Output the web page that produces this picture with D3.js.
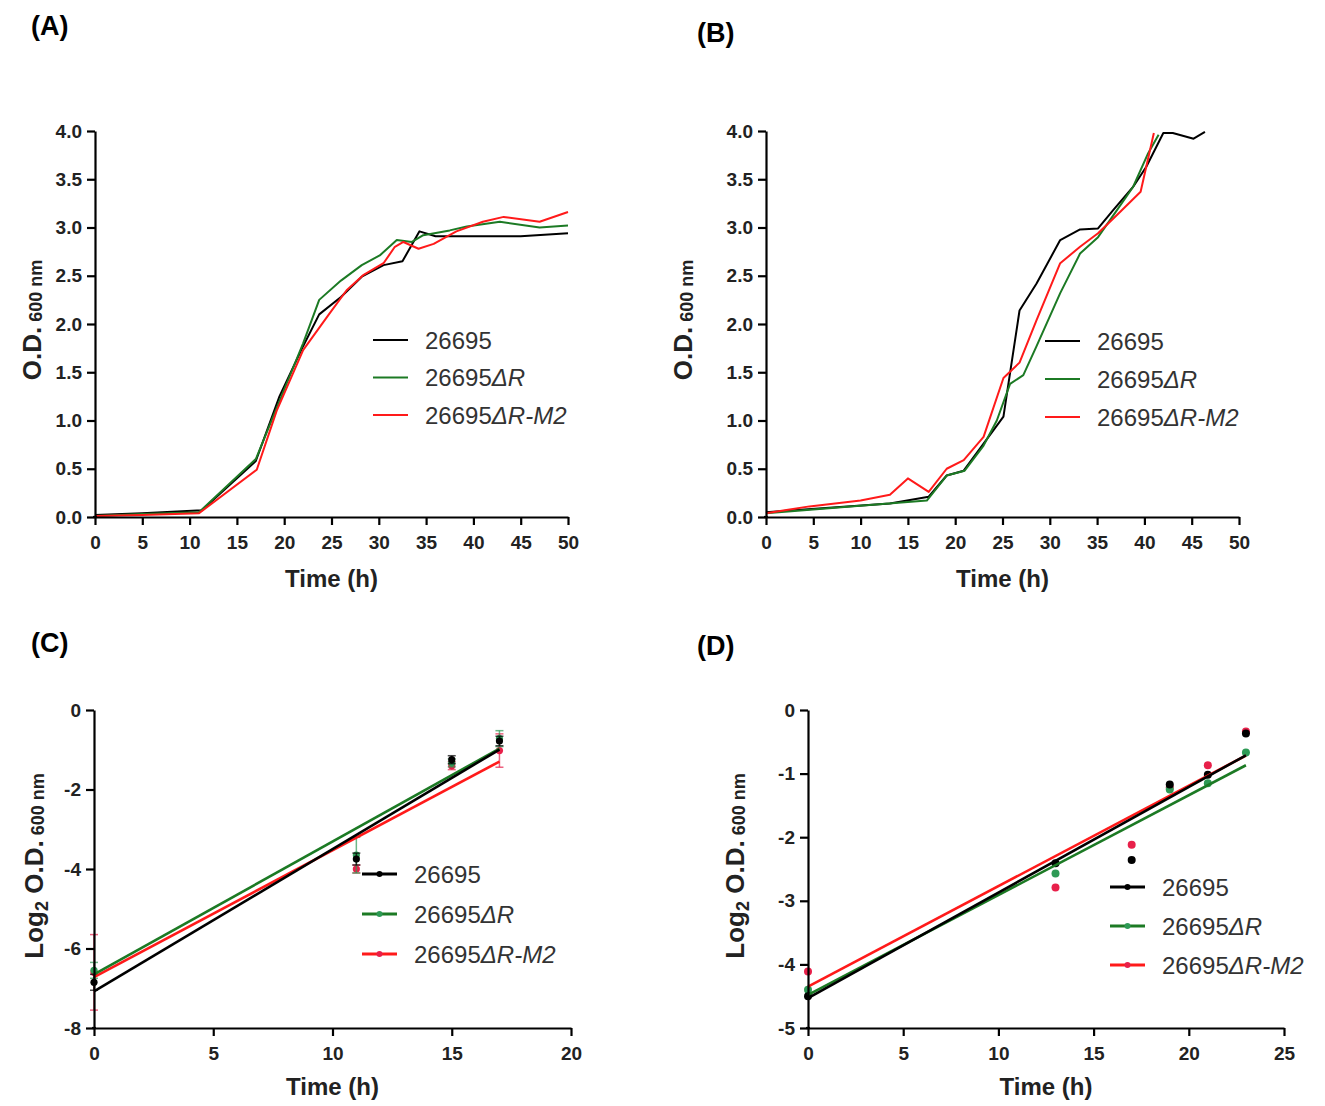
<!DOCTYPE html>
<html><head><meta charset="utf-8">
<script src="https://cdn.jsdelivr.net/npm/d3@7"></script>
<style>body{margin:0;background:#fff} svg{display:block}</style>
</head><body>
<svg id="chart" width="1325" height="1106"></svg>
<script>
// ===================== DATA =====================
const seriesNames = ["26695", "26695\u0394R", "26695\u0394R-M2"];

// Panel A : growth curves (O.D. 600 nm vs time)
const aTimeWT = [0, 5, 11.3, 17, 19.5, 22, 23.7, 26, 28.2, 30.5, 32.5, 34.3, 36, 40, 45, 50];
const aOdWT   = [0.02, 0.04, 0.07, 0.58, 1.25, 1.77, 2.1, 2.28, 2.49, 2.61, 2.65, 2.96, 2.91, 2.91, 2.91, 2.94];
const aTimeDR = [0, 5, 11, 17, 19.5, 22, 23.7, 26, 28.2, 30.1, 31.9, 33.5, 34.7, 37.5, 39.3, 42.8, 47, 50];
const aOdDR   = [0.01, 0.03, 0.05, 0.6, 1.2, 1.8, 2.25, 2.45, 2.61, 2.71, 2.87, 2.85, 2.92, 2.97, 3.01, 3.06, 3.0, 3.02];
const aTimeM2 = [0, 5, 11, 17.1, 19.2, 22, 24.8, 26.6, 28.4, 30.5, 31.7, 32.6, 34.2, 35.8, 38.2, 41, 43.2, 47, 50];
const aOdM2   = [0.01, 0.02, 0.04, 0.49, 1.1, 1.73, 2.11, 2.35, 2.51, 2.63, 2.8, 2.85, 2.78, 2.83, 2.96, 3.06, 3.11, 3.06, 3.16];

// Panel B : growth curves
const bTimeWT = [0, 13.1, 17.2, 19.1, 20.9, 23, 25.1, 26.8, 28.6, 31.1, 33.2, 35.1, 36.7, 38.8, 40.2, 42, 43, 45.2, 46.4];
const bOdWT   = [0.05, 0.14, 0.21, 0.43, 0.48, 0.76, 1.04, 2.14, 2.42, 2.87, 2.98, 2.99, 3.18, 3.42, 3.63, 3.98, 3.98, 3.92, 3.99];
const bTimeDR = [0, 17, 19.1, 21, 23, 24.4, 25.8, 27.2, 28.6, 31.1, 33.2, 35.1, 37.1, 38.8, 40.4, 41.5];
const bOdDR   = [0.04, 0.17, 0.43, 0.48, 0.74, 1.0, 1.38, 1.47, 1.77, 2.32, 2.73, 2.9, 3.18, 3.42, 3.77, 3.96];
const bTimeM2 = [0, 4.6, 10, 13.1, 15, 17.2, 19.1, 20.9, 23, 25.1, 26.8, 28.6, 31.1, 33.2, 35.1, 37.1, 39.6, 41];
const bOdM2   = [0.04, 0.11, 0.17, 0.23, 0.4, 0.26, 0.5, 0.59, 0.83, 1.44, 1.6, 2.04, 2.63, 2.8, 2.94, 3.13, 3.37, 3.98];

// Panel C : log2 O.D. (mean, SD) with linear fits
const cTime   = [0, 11, 15, 17];
const cLogWT  = [-6.85, -3.75, -1.25, -0.78];
const cSdWT   = [0.2, 0.15, 0.1, 0.12];
const cLogDR  = [-6.55, -3.65, -1.33, -0.72];
const cSdDR   = [0.2, 0.45, 0.1, 0.2];
const cLogM2  = [-6.6, -4.0, -1.4, -1.02];
const cSdM2   = [0.95, 0.1, 0.1, 0.42];
const cFitSlope     = [0.358, 0.334, 0.319];
const cFitIntercept = [-7.08, -6.65, -6.72];
const cFitRange     = [0, 17];

// Panel D : log2 O.D. with linear fits
const dTime   = [0, 13, 17, 19, 21, 23];
const dLogWT  = [-4.5, -2.41, -2.36, -1.17, -1.02, -0.37];
const dLogDR  = [-4.4, -2.57, null, -1.25, -1.15, -0.67];
const dLogM2  = [-4.11, -2.79, -2.12, -1.22, -0.87, -0.34];
const dFitSlope     = [0.166, 0.157, 0.158];
const dFitIntercept = [-4.53, -4.48, -4.35];
const dFitRange     = [0, 23];

// Tick values
const odTicks   = [0, 0.5, 1, 1.5, 2, 2.5, 3, 3.5, 4];
const time50Ticks = [0, 5, 10, 15, 20, 25, 30, 35, 40, 45, 50];
const time20Ticks = [0, 5, 10, 15, 20];
const time25Ticks = [0, 5, 10, 15, 20, 25];
const logCTicks = [-8, -6, -4, -2, 0];
const logDTicks = [-5, -4, -3, -2, -1, 0];

// ===================== STYLE / LAYOUT =====================
const colors = ["#000000", "#1c7a24", "#ff1a1a"];
const dotColors = ["#000000", "#2e9a55", "#e8204a"];
const FONT = "'Liberation Sans', Arial, Helvetica, sans-serif";
const svg = d3.select("#chart");
const hyph = f => (d => f(d).replace("\u2212", "-"));

function zip(xs, ys) { return xs.map((x, i) => [x, ys[i]]).filter(d => d[1] !== null); }

function makeAxes(g, x, y, xTicks, yTicks, yFmt) {
  const xa = g.append("g").attr("transform", `translate(0,${y.range()[0]})`)
    .call(d3.axisBottom(x).tickValues(xTicks).tickSize(8).tickSizeOuter(0).tickPadding(11).tickFormat(d3.format("d")));
  const ya = g.append("g").attr("transform", `translate(${x.range()[0]},0)`)
    .call(d3.axisLeft(y).tickValues(yTicks).tickSize(8).tickSizeOuter(0).tickPadding(5).tickFormat(hyph(yFmt)));
  [xa, ya].forEach(a => {
    a.select(".domain").attr("stroke", "#000").attr("stroke-width", 2.2);
    a.selectAll(".tick line").attr("stroke", "#000").attr("stroke-width", 2.2);
    a.selectAll(".tick text").attr("fill", "#222").attr("font-family", FONT)
      .attr("font-weight", "bold").attr("font-size", 19);
  });
  g.append("line").attr("x1", x.range()[0] - 2).attr("x2", x.range()[0] + 2)
    .attr("y1", y.range()[0]).attr("y2", y.range()[0]).attr("stroke", "#000").attr("stroke-width", 2.2);
}

function xTitle(g, x, yBase) {
  g.append("text").attr("x", (x.range()[0] + x.range()[1]) / 2).attr("y", yBase)
    .attr("text-anchor", "middle").attr("font-family", FONT).attr("font-weight", "bold")
    .attr("font-size", 24).attr("fill", "#222").text("Time (h)");
}

function yTitle(g, xb, yc, withLog) {
  const t = g.append("text").attr("transform", `translate(${xb},${yc}) rotate(-90)`)
    .attr("text-anchor", "middle").attr("font-family", FONT).attr("font-weight", "bold")
    .attr("font-size", 26).attr("fill", "#222");
  if (withLog) {
    t.append("tspan").text("Log");
    t.append("tspan").attr("font-size", 18).attr("dy", 5).text("2");
    t.append("tspan").attr("dy", -5).text(" O.D.");
  } else {
    t.append("tspan").text("O.D.");
  }
  t.append("tspan").attr("font-size", 18).attr("dy", 1).text(" 600 nm");
}

function panelLabel(txt, x, y) {
  svg.append("text").attr("x", x).attr("y", y).attr("font-family", FONT).attr("font-weight", "bold")
    .attr("font-size", 27).attr("fill", "#000").text(txt);
}

function legend(g, x0, y0, dy, withDots) {
  seriesNames.forEach((name, i) => {
    const yy = y0 + i * dy;
    g.append("line").attr("x1", x0).attr("x2", x0 + 35).attr("y1", yy).attr("y2", yy)
      .attr("stroke", colors[i]).attr("stroke-width", withDots ? 3 : 2.2);
    if (withDots) g.append("circle").attr("cx", x0 + 17.5).attr("cy", yy).attr("r", 3).attr("fill", dotColors[i]);
    const t = g.append("text").attr("x", x0 + 52).attr("y", yy + 8.5).attr("font-family", FONT)
      .attr("font-size", 24).attr("fill", "#333");
    t.append("tspan").text("26695");
    if (i === 1) t.append("tspan").attr("font-style", "italic").text("\u0394R");
    if (i === 2) t.append("tspan").attr("font-style", "italic").text("\u0394R-M2");
  });
}

const line = (x, y) => d3.line().x(d => x(d[0])).y(d => y(d[1]));

// ===================== PANEL A =====================
{
  const g = svg.append("g");
  const x = d3.scaleLinear().domain([0, 50]).range([95, 568]);
  const y = d3.scaleLinear().domain([0, 4]).range([517, 131]);
  const data = [zip(aTimeWT, aOdWT), zip(aTimeDR, aOdDR), zip(aTimeM2, aOdM2)];
  data.forEach((d, i) => g.append("path").datum(d).attr("d", line(x, y)).attr("fill", "none")
    .attr("stroke", colors[i]).attr("stroke-width", 2).attr("stroke-linejoin", "round"));
  makeAxes(g, x, y, time50Ticks, odTicks, d3.format(".1f"));
  xTitle(g, x, 587);
  yTitle(g, 41, 320, false);
  legend(g, 373, 340, 37.5, false);
  panelLabel("(A)", 31, 35);
}

// ===================== PANEL B =====================
{
  const g = svg.append("g");
  const x = d3.scaleLinear().domain([0, 50]).range([766, 1239]);
  const y = d3.scaleLinear().domain([0, 4]).range([517, 131]);
  const data = [zip(bTimeWT, bOdWT), zip(bTimeDR, bOdDR), zip(bTimeM2, bOdM2)];
  data.forEach((d, i) => g.append("path").datum(d).attr("d", line(x, y)).attr("fill", "none")
    .attr("stroke", colors[i]).attr("stroke-width", 2).attr("stroke-linejoin", "round"));
  makeAxes(g, x, y, time50Ticks, odTicks, d3.format(".1f"));
  xTitle(g, x, 587);
  yTitle(g, 692, 320, false);
  legend(g, 1045, 341, 38, false);
  panelLabel("(B)", 697, 42);
}

// ===================== PANEL C =====================
{
  const g = svg.append("g");
  const x = d3.scaleLinear().domain([0, 20]).range([94, 571]);
  const y = d3.scaleLinear().domain([-8, 0]).range([1028, 710]);
  const means = [cLogWT, cLogDR, cLogM2];
  const sds = [cSdWT, cSdDR, cSdM2];
  [2, 1, 0].forEach(i => {
    cTime.forEach((t, j) => {
      const m = means[i][j], s = sds[i][j];
      g.append("line").attr("x1", x(t)).attr("x2", x(t)).attr("y1", y(m - s)).attr("y2", y(m + s))
        .attr("stroke", dotColors[i]).attr("stroke-width", 1.5).attr("opacity", 0.7);
      [m - s, m + s].forEach(v => g.append("line").attr("x1", x(t) - 4).attr("x2", x(t) + 4)
        .attr("y1", y(v)).attr("y2", y(v)).attr("stroke", dotColors[i]).attr("stroke-width", 1.5).attr("opacity", 0.7));
      g.append("circle").attr("cx", x(t)).attr("cy", y(m)).attr("r", 3.6).attr("fill", dotColors[i]);
    });
  });
  [2, 1, 0].forEach(i => {
    const fit = cFitRange.map(t => [t, cFitIntercept[i] + cFitSlope[i] * t]);
    g.append("path").datum(fit).attr("d", line(x, y)).attr("stroke", colors[i]).attr("stroke-width", 2.6).attr("fill", "none");
  });
  makeAxes(g, x, y, time20Ticks, logCTicks, d3.format("d"));
  xTitle(g, x, 1095);
  yTitle(g, 43, 866, true);
  legend(g, 362, 874, 40, true);
  panelLabel("(C)", 31, 652);
}

// ===================== PANEL D =====================
{
  const g = svg.append("g");
  const x = d3.scaleLinear().domain([0, 25]).range([808, 1284]);
  const y = d3.scaleLinear().domain([-5, 0]).range([1028, 710]);
  const means = [dLogWT, dLogDR, dLogM2];
  [2, 1, 0].forEach(i => {
    const pts = zip(dTime, means[i]);
    g.selectAll(null).data(pts).enter().append("circle")
      .attr("cx", d => x(d[0])).attr("cy", d => y(d[1])).attr("r", 4).attr("fill", dotColors[i]);
  });
  [2, 1, 0].forEach(i => {
    const fit = dFitRange.map(t => [t, dFitIntercept[i] + dFitSlope[i] * t]);
    g.append("path").datum(fit).attr("d", line(x, y)).attr("stroke", colors[i]).attr("stroke-width", 2.6).attr("fill", "none");
  });
  makeAxes(g, x, y, time25Ticks, logDTicks, d3.format("d"));
  xTitle(g, x, 1095);
  yTitle(g, 744, 866, true);
  legend(g, 1110, 887, 39, true);
  panelLabel("(D)", 697, 655);
}
</script>
</body></html>
